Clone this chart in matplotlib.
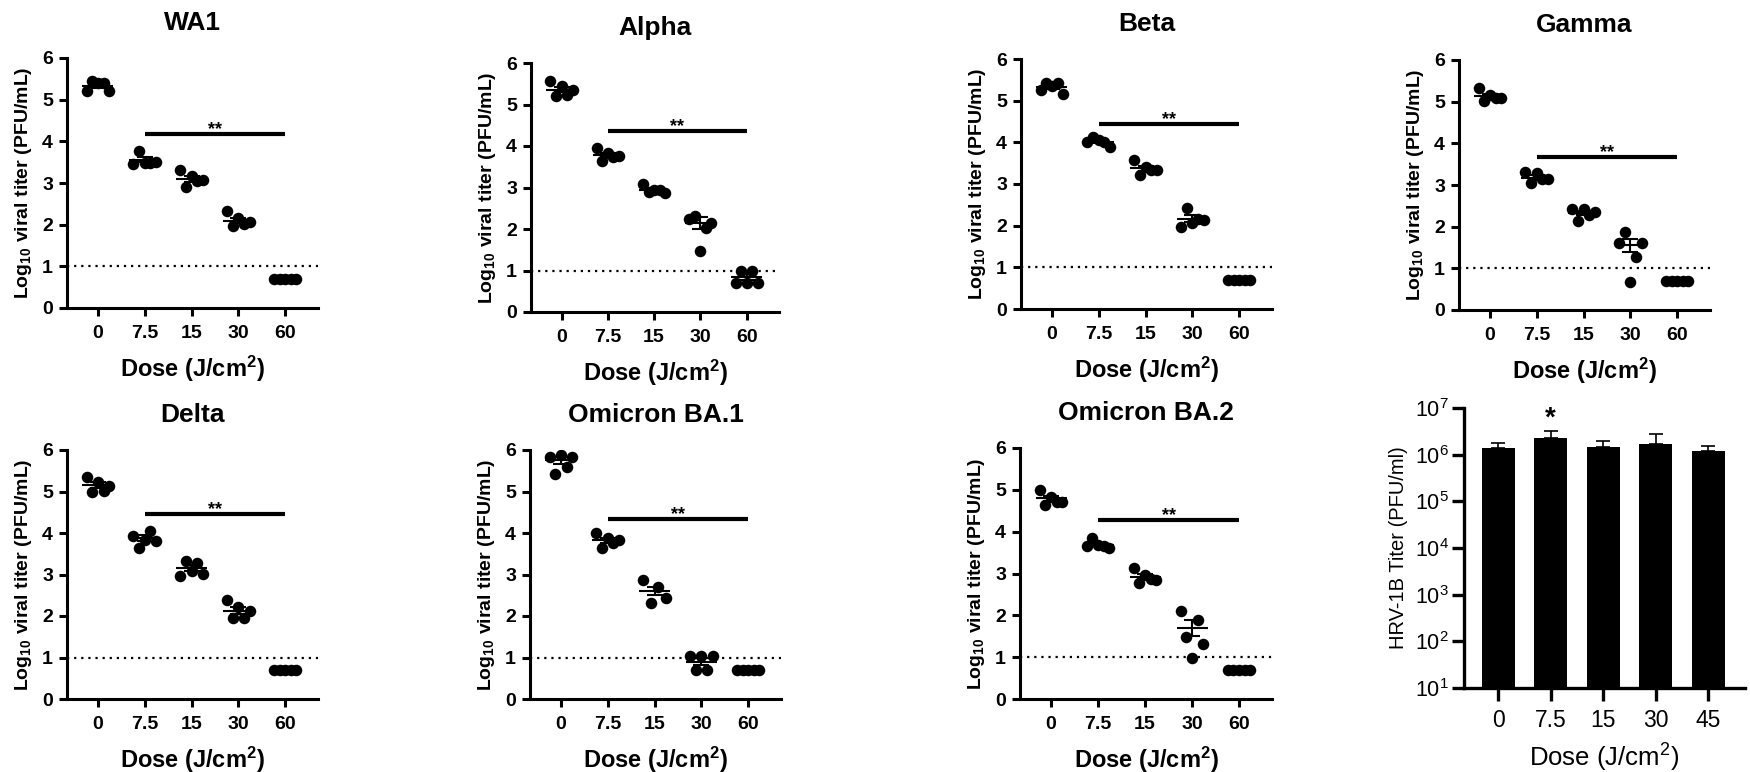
import numpy as np
import matplotlib
matplotlib.use("Agg")
import matplotlib.pyplot as plt

plt.rcParams['font.family'] = ['Liberation Sans', 'DejaVu Sans']
plt.rcParams['mathtext.fontset'] = 'custom'
plt.rcParams['mathtext.rm'] = 'Liberation Sans'
plt.rcParams['mathtext.bf'] = 'Liberation Sans:bold'
plt.rcParams['mathtext.it'] = 'Liberation Sans:italic'

# ---- data ----
doses = ['0', '7.5', '15', '30', '60']

wa1 = [[5.22, 5.44, 5.40, 5.41, 5.22], [3.45, 3.78, 3.48, 3.47, 3.50],
       [3.32, 2.90, 3.16, 3.04, 3.08], [2.32, 1.96, 2.16, 2.02, 2.06],
       [0.7, 0.7, 0.7, 0.7, 0.7]]
wa1_mean = [5.34, 3.56, 3.10, 2.10, 0.70]
wa1_sem = [0.05, 0.06, 0.07, 0.06, 0.0]

alpha = [[5.56, 5.21, 5.45, 5.24, 5.36], [3.95, 3.63, 3.83, 3.73, 3.75],
         [3.08, 2.88, 2.94, 2.94, 2.86], [2.24, 2.32, 1.48, 2.03, 2.15],
         [0.7, 1.0, 0.7, 1.0, 0.7]]
alpha_mean = [5.36, 3.78, 2.94, 2.14, 0.85]
alpha_sem = [0.07, 0.05, 0.04, 0.15, 0.07]

beta = [[5.25, 5.42, 5.36, 5.42, 5.17], [4.00, 4.14, 4.05, 4.00, 3.90],
        [3.58, 3.22, 3.42, 3.34, 3.34], [1.96, 2.42, 2.06, 2.16, 2.13],
        [0.7, 0.7, 0.7, 0.7, 0.7]]
beta_mean = [5.33, 4.02, 3.38, 2.17, 0.70]
beta_sem = [0.05, 0.04, 0.06, 0.08, 0.0]

gamma = [[5.34, 5.02, 5.16, 5.08, 5.10], [3.32, 3.04, 3.28, 3.14, 3.14],
         [2.42, 2.14, 2.42, 2.28, 2.36], [1.60, 1.88, 0.68, 1.28, 1.60],
         [0.7, 0.7, 0.7, 0.7, 0.7]]
gamma_mean = [5.14, 3.18, 2.32, 1.55, 0.70]
gamma_sem = [0.05, 0.05, 0.05, 0.16, 0.0]

delta = [[5.36, 5.00, 5.22, 5.01, 5.14], [3.92, 3.64, 3.82, 4.06, 3.80],
         [2.96, 3.32, 3.08, 3.27, 3.01], [2.39, 1.95, 2.21, 1.95, 2.11],
         [0.7, 0.7, 0.7, 0.7, 0.7]]
delta_mean = [5.16, 3.87, 3.15, 2.13, 0.70]
delta_sem = [0.07, 0.07, 0.07, 0.08, 0.0]

ba1 = [[5.84, 5.41, 5.88, 5.60, 5.84], [4.00, 3.65, 3.87, 3.75, 3.83],
       [2.87, 2.31, 2.71, 2.43], [1.03, 0.69, 1.03, 0.69, 1.03],
       [0.7, 0.7, 0.7, 0.7, 0.7]]
ba1_mean = [5.75, 3.82, 2.61, 0.90, 0.70]
ba1_sem = [0.09, 0.06, 0.10, 0.08, 0.0]

ba2 = [[5.00, 4.64, 4.82, 4.71, 4.71], [3.66, 3.86, 3.67, 3.66, 3.61],
       [3.14, 2.77, 2.97, 2.87, 2.85], [2.11, 1.48, 0.99, 1.89, 1.31],
       [0.7, 0.7, 0.7, 0.7, 0.7]]
ba2_mean = [4.80, 3.69, 2.92, 1.70, 0.70]
ba2_sem = [0.06, 0.04, 0.06, 0.19, 0.0]

sig_y = {'WA1': 4.18, 'Alpha': 4.35, 'Beta': 4.44, 'Gamma': 3.68,
         'Delta': 4.45, 'Omicron BA.1': 4.34, 'Omicron BA.2': 4.27}

hrv_doses = ['0', '7.5', '15', '30', '45']
hrv_titer = [1.40e6, 2.27e6, 1.48e6, 1.69e6, 1.18e6]
hrv_err = [0.38e6, 1.00e6, 0.52e6, 1.10e6, 0.37e6]

panels = [
    ('WA1', wa1, wa1_mean, wa1_sem, [67, 318, 58, 308]),
    ('Alpha', alpha, alpha_mean, alpha_sem, [531, 779, 63, 312]),
    ('Beta', beta, beta_mean, beta_sem, [1021, 1272, 59, 309]),
    ('Gamma', gamma, gamma_mean, gamma_sem, [1459, 1710, 60, 310]),
    ('Delta', delta, delta_mean, delta_sem, [67, 318, 450, 699]),
    ('Omicron BA.1', ba1, ba1_mean, ba1_sem, [530, 781, 450, 699]),
    ('Omicron BA.2', ba2, ba2_mean, ba2_sem, [1020, 1272, 448, 699]),
]

W, H = 1750, 772
fig = plt.figure(figsize=(W / 100, H / 100), dpi=100)


def px_axes(box):
    l, r, t, b = box
    return fig.add_axes([l / W, 1 - b / H, (r - l) / W, (b - t) / H])


def style_axes(ax, lw=2.2):
    for s in ['top', 'right']:
        ax.spines[s].set_visible(False)
    for s in ['left', 'bottom']:
        ax.spines[s].set_linewidth(lw)
    ax.tick_params(width=lw, length=6, direction='out')


for name, groups, means, sems, box in panels:
    ax = px_axes(box)
    style_axes(ax)
    x = np.arange(len(doses))
    for i, vals in enumerate(groups):
        offs = np.linspace(-0.24, 0.24, len(vals))
        ax.plot(i + offs, vals, 'o', color='black', ms=8.3, mew=0, zorder=3)
    ax.hlines(means, x - 0.33, x + 0.33, color='black', lw=1.5, zorder=4)
    ax.errorbar(x, means, yerr=sems, fmt='none', ecolor='black', elinewidth=1.5,
                capsize=5.8, capthick=1.5, zorder=4)
    ax.axhline(1, color='black', lw=1.6, ls=(0, (1, 2.2)), zorder=1)
    ax.plot([1, 4], [sig_y[name]] * 2, color='black', lw=3, solid_capstyle='butt')
    ax.text(2.5, sig_y[name], '**', ha='center', va='baseline', fontsize=13,
            fontweight='bold')
    ax.set_xlim(-0.66, 4.7)
    ax.set_ylim(0, 6)
    ax.set_xticks(x)
    ax.set_xticklabels(doses)
    ax.set_yticks(range(7))
    for lab in ax.get_xticklabels() + ax.get_yticklabels():
        lab.set_fontweight('bold')
        lab.set_fontsize(14)
    ax.tick_params(axis='x', pad=6.5)
    ax.tick_params(axis='y', pad=4)
    ax.set_title(name, fontsize=19, fontweight='bold', pad=20)
    ax.set_ylabel(r'Log$_{\mathbf{10}}$ viral titer (PFU/mL)', fontsize=14,
                  fontweight='bold', labelpad=6)
    ax.set_xlabel(r'Dose (J/cm$^{\mathbf{2}}$)', fontsize=17, fontweight='bold',
                  labelpad=8)

# HRV-1B bar panel
ax = px_axes([1464, 1745, 408, 688])
style_axes(ax, lw=2.4)
xb = np.arange(len(hrv_doses))
ax.set_yscale('log')
ax.bar(xb, hrv_titer, width=0.63, color='black', zorder=2)
ax.errorbar(xb, hrv_titer, yerr=[np.zeros(len(hrv_err)), hrv_err], fmt='none',
            ecolor='black', elinewidth=1.2, capsize=4.7, capthick=1.2, zorder=1)
ax.text(1, 10 ** 6.62, '*', ha='center', va='baseline', fontsize=20, fontweight='bold')
ax.set_xlim(-0.65, 4.7)
ax.set_ylim(10, 1e7)
ax.set_yticks([10.0 ** k for k in range(1, 8)])
ax.set_yticklabels([r'$10^{%d}$' % k for k in range(1, 8)])
ax.minorticks_off()
ax.set_xticks(xb)
ax.set_xticklabels(hrv_doses)
ax.tick_params(length=9, width=2.4)
ax.tick_params(axis='y', pad=2, labelsize=15.5)
ax.tick_params(axis='x', pad=6, labelsize=16.5)
ax.set_ylabel('HRV-1B Titer (PFU/ml)', fontsize=14.5, labelpad=5)
ax.set_xlabel(r'Dose (J/cm$^2$)', fontsize=18.5, labelpad=7)

fig.savefig('out.png', dpi=100, facecolor='white')
